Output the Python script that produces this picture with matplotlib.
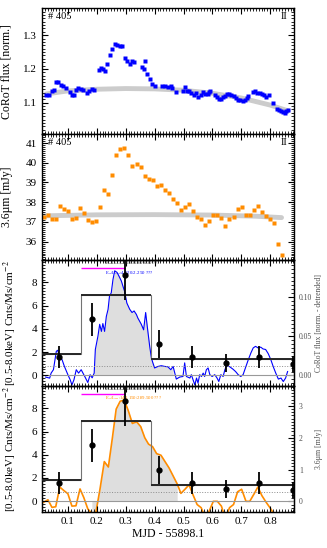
import numpy as np
from matplotlib import pyplot as plt
from matplotlib.ticker import MultipleLocator, FormatStrFormatter

# CoRoT light curve (panel 1)
corot_x = [0.025, 0.036, 0.045, 0.052, 0.060, 0.067, 0.076, 0.083, 0.094, 0.106,
           0.114, 0.120, 0.127, 0.136, 0.144, 0.152, 0.166, 0.173, 0.182, 0.190,
           0.206, 0.213, 0.220, 0.227, 0.236, 0.244, 0.254, 0.262, 0.270, 0.279,
           0.286, 0.296, 0.306, 0.314, 0.322, 0.330, 0.355, 0.362, 0.368, 0.375,
           0.383, 0.391, 0.400,
           0.427, 0.436, 0.445, 0.455, 0.459, 0.475, 0.497, 0.504, 0.511, 0.519,
           0.526, 0.535, 0.542, 0.551, 0.560, 0.568, 0.575, 0.583, 0.588, 0.593,
           0.608, 0.616, 0.622, 0.629, 0.637, 0.644, 0.651, 0.658, 0.665, 0.673,
           0.682, 0.690, 0.697, 0.704, 0.711, 0.718, 0.724,
           0.739, 0.747, 0.755, 0.763, 0.771, 0.778, 0.786, 0.794, 0.811, 0.823,
           0.831, 0.838, 0.845, 0.851, 0.856, 0.861]
corot_y = [1.122, 1.122, 1.135, 1.139, 1.160, 1.162, 1.154, 1.149, 1.144, 1.131,
           1.124, 1.124, 1.137, 1.144, 1.140, 1.137, 1.129, 1.136, 1.141, 1.139,
           1.196, 1.204, 1.201, 1.195, 1.216, 1.241, 1.258, 1.275, 1.272, 1.269,
           1.267, 1.234, 1.224, 1.214, 1.223, 1.221, 1.206, 1.199, 1.223, 1.184,
           1.171, 1.156, 1.149,
           1.151, 1.150, 1.147, 1.150, 1.143, 1.132, 1.135, 1.148, 1.135, 1.135,
           1.129, 1.124, 1.129, 1.117, 1.122, 1.132, 1.126, 1.127, 1.133, 1.136,
           1.122, 1.118, 1.110, 1.111, 1.116, 1.119, 1.127, 1.126, 1.124, 1.121,
           1.113, 1.109, 1.107, 1.106, 1.109, 1.113, 1.121,
           1.131, 1.135, 1.130, 1.129, 1.127, 1.123, 1.118, 1.122, 1.100, 1.082,
           1.077, 1.075, 1.074, 1.070, 1.075, 1.079]
corot_trend_x = [0.025, 0.1, 0.2, 0.3, 0.4, 0.5, 0.6, 0.7, 0.8, 0.861]
corot_trend_y = [1.126, 1.135, 1.140, 1.142, 1.141, 1.137, 1.128, 1.114, 1.093, 1.076]

# Spitzer 3.6um light curve (panel 2)
irac_x = [0.016, 0.031, 0.045, 0.058, 0.072, 0.086, 0.100, 0.114, 0.128, 0.142,
          0.155, 0.169, 0.183, 0.197, 0.211, 0.226, 0.240, 0.254, 0.267, 0.281,
          0.295, 0.309, 0.323, 0.338, 0.352, 0.366, 0.379, 0.393, 0.407, 0.422,
          0.436, 0.450, 0.464, 0.478, 0.491, 0.505, 0.519, 0.533, 0.547, 0.561,
          0.575, 0.589, 0.603, 0.617, 0.631, 0.645, 0.659, 0.673, 0.687, 0.701,
          0.716, 0.729, 0.745, 0.757, 0.771, 0.785, 0.799, 0.813, 0.827, 0.839]
irac_y = [37.26, 37.36, 37.14, 37.16, 37.79, 37.67, 37.57, 37.16, 37.18, 37.72,
          37.46, 37.11, 36.98, 37.03, 37.74, 38.60, 38.42, 39.39, 40.37, 40.70,
          40.75, 40.39, 39.84, 39.92, 39.76, 39.33, 39.16, 39.10, 38.83, 38.85,
          38.62, 38.45, 38.15, 37.95, 37.59, 37.74, 37.89, 37.54, 37.24, 37.16,
          36.84, 37.03, 37.36, 37.36, 37.19, 36.78, 37.13, 37.23, 37.66, 37.74,
          37.34, 37.34, 37.59, 37.82, 37.52, 37.32, 37.13, 36.93, 35.90, 35.30]
irac_trend_x = [0.016, 0.2, 0.4, 0.6, 0.75, 0.839]
irac_trend_y = [37.31, 37.36, 37.37, 37.35, 37.29, 37.22]

# X-ray rate (panels 3, 4)
xray_x = [0.068, 0.183, 0.299, 0.415, 0.531, 0.646, 0.762, 0.878]
xray_y = [1.60, 4.83, 8.63, 2.68, 1.60, 1.05, 1.60, 0.99]
xray_err = [0.95, 1.42, 2.15, 1.18, 0.95, 0.75, 0.95, 0.70]
block_edges = [0.01, 0.146, 0.387, 0.882]
block_rate = [1.81, 6.95, 1.38]
quiescent_level = 0.77

# detrended CoRoT (panel 3, right axis)
corot_det_x = [0.023, 0.037, 0.042, 0.050, 0.060, 0.065, 0.071, 0.080, 0.088, 0.100,
               0.108, 0.114, 0.121, 0.129, 0.137, 0.146, 0.158, 0.169, 0.177, 0.184,
               0.191, 0.195, 0.204, 0.210, 0.216, 0.221, 0.227, 0.233, 0.239, 0.244,
               0.250, 0.256, 0.262, 0.270, 0.277, 0.285, 0.290, 0.296, 0.304, 0.314,
               0.322, 0.329, 0.337, 0.342, 0.348, 0.354, 0.362, 0.369, 0.375, 0.383,
               0.389, 0.394, 0.400, 0.412, 0.423, 0.435, 0.446, 0.456, 0.464, 0.475,
               0.487, 0.498, 0.504, 0.510, 0.522, 0.527, 0.533, 0.539, 0.545, 0.550,
               0.556, 0.562, 0.568, 0.573, 0.579, 0.585, 0.591, 0.599, 0.608, 0.616,
               0.622, 0.629, 0.637, 0.643, 0.649, 0.660, 0.671, 0.680, 0.689, 0.698,
               0.706, 0.714, 0.724, 0.733, 0.741, 0.749, 0.758, 0.767, 0.775, 0.784,
               0.793, 0.802, 0.810, 0.819, 0.828, 0.837, 0.845, 0.853, 0.860]
corot_det_y = [-0.002, -0.0034, 0.003, 0.0073, 0.0307, 0.032, 0.024, 0.020, 0.0115, 0.001,
               -0.0055, -0.012, -0.0055, 0.0073, 0.003, 0.0073, -0.001, -0.009, 0.001, -0.003,
               0.003, 0.033, 0.050, 0.065, 0.056, 0.066, 0.056, 0.075, 0.084, 0.101,
               0.105, 0.122, 0.133, 0.131, 0.126, 0.120, 0.114, 0.107, 0.092, 0.084,
               0.080, 0.082, 0.0775, 0.073, 0.069, 0.065, 0.058, 0.080, 0.061, 0.037,
               0.022, 0.016, 0.0095, 0.0115, 0.0124, 0.0115, 0.011, 0.0073, 0.0115, -0.0046,
               -0.002, -0.0013, 0.016, -0.0013, -0.0033, 0.001, -0.0055, -0.012, -0.0033, -0.0097,
               0.001, -0.0013, 0.003, -0.0013, 0.0073, 0.0095, 0.001, -0.0013, 0.001, -0.0033,
               -0.0077, 0.001, -0.0013, 0.0073, 0.0124, 0.011, 0.008, 0.005, 0.001, -0.0013,
               0.001, 0.0095, 0.020, 0.0286, 0.035, 0.037, 0.035, 0.036, 0.0337, 0.033,
               0.0277, 0.020, 0.0115, 0.003, -0.0046, -0.0033, -0.0077, -0.0033, 0.005]
corot_flare_range = (0.19, 0.465)

# detrended 3.6um (panel 4, right axis), same epochs as irac_x
irac_det_y = [-0.03, 0.05, -0.19, -0.17, 0.45, 0.34, 0.24, -0.15, -0.14, 0.39,
              0.12, -0.24, -0.38, -0.34, 0.38, 1.25, 1.08, 2.0, 2.9, 3.15,
              3.18, 2.85, 2.45, 2.5, 2.35, 2.0, 1.8, 1.72, 1.5, 1.45,
              1.25, 1.05, 0.8, 0.55, 0.25, 0.38, 0.52, 0.2, -0.1, -0.2,
              -0.5, -0.3, 0.0, 0.0, -0.15, -0.55, -0.2, -0.1, 0.3, 0.38,
              0.0, 0.0, 0.25, 0.45, 0.18, -0.02, -0.2, -0.4, -1.4, -2.0]
irac_flare_range = (0.18, 0.48)

flare_span = (0.146, 0.298)

plt.rcParams['font.family'] = 'serif'
plt.rcParams['font.serif'] = ['Liberation Serif', 'DejaVu Serif']
plt.rcParams['mathtext.fontset'] = 'stix'

ORANGE = '#ff8c00'


def style_axis(ax, right=True):
    ax.tick_params(which='both', direction='in', top=True, right=right, labelsize=8)
    ax.tick_params(which='major', length=4, width=0.8)
    ax.tick_params(which='minor', length=2, width=0.6)
    ax.xaxis.set_major_locator(MultipleLocator(0.1))
    ax.xaxis.set_minor_locator(MultipleLocator(0.01))
    for sp in ax.spines.values():
        sp.set_linewidth(1.0)


fig, axes = plt.subplots(4, 1, figsize=(3.27, 5.48), dpi=100, sharex=True)
fig.subplots_adjust(left=0.128, right=0.899, top=0.985, bottom=0.066, hspace=0)
ax1, ax2, ax3, ax4 = axes

# panel 1: CoRoT
ax1.plot(corot_trend_x, corot_trend_y, color='0.8', lw=3.5, solid_capstyle='round', zorder=1)
ax1.plot(corot_x, corot_y, 's', color='blue', ms=2.5, mec='none', zorder=2)
ax1.set_ylim(1.007, 1.38)
ax1.yaxis.set_major_locator(MultipleLocator(0.1))
ax1.yaxis.set_minor_locator(MultipleLocator(0.01))
ax1.set_ylabel('CoRoT flux [norm.]', fontsize=8.5)
ax1.yaxis.set_label_coords(-0.115, 0.5)
style_axis(ax1)

# panel 2: 3.6um
ax2.plot(irac_trend_x, irac_trend_y, color='0.8', lw=3.5, solid_capstyle='round', zorder=1)
ax2.plot(irac_x, irac_y, 's', color=ORANGE, ms=2.5, mec='none', zorder=2)
ax2.set_ylim(35.07, 41.45)
ax2.yaxis.set_major_locator(MultipleLocator(1))
ax2.yaxis.set_minor_locator(MultipleLocator(0.1))
ax2.set_ylabel('3.6µm [mJy]', fontsize=8.5)
ax2.yaxis.set_label_coords(-0.115, 0.5)
style_axis(ax2)

for ax in (ax1, ax2):
    ax.text(0.025, 0.97, '# 405', transform=ax.transAxes, ha='left', va='top', fontsize=7.5)
    ax.text(0.975, 0.97, 'II', transform=ax.transAxes, ha='right', va='top', fontsize=7.5)

# panels 3 and 4: X-ray + detrended curves
panels = [
    (ax3, corot_det_x, corot_det_y, 'blue', 0.8, corot_flare_range,
     'CoRoT flux [norm. - detrended]', (-0.0133, 0.1467), 0.05, 0.005, '%.2f',
     r'E$_X$/L$_{opt}$:4.020/2.250 ???'),
    (ax4, irac_x, irac_det_y, ORANGE, 1.2, irac_flare_range,
     '3.6µm [mJy]', (-0.33, 3.63), 1, 0.1, '%d',
     r'E$_X$/L$_{IR}$:141.150/289.500 ???'),
]
for ax, px, py, col, lw, frange, rlabel, rlim, rmaj, rmin, rfmt, note in panels:
    ax.set_ylim(-0.92, 9.93)
    ax.axhline(0, color='0.6', lw=0.8, zorder=1)
    ax.axhline(quiescent_level, color='0.55', lw=0.7, ls=':', zorder=1)
    ax.stairs(block_rate, block_edges, color='0.45', lw=0.8, baseline=None, zorder=3)
    ax.hlines(block_rate, block_edges[:-1], block_edges[1:], color='0.15', lw=1.4, zorder=3)
    ax.errorbar(xray_x, xray_y, yerr=xray_err, fmt='o', color='black', ms=3.5,
                elinewidth=1.3, capsize=0, zorder=5)
    ax.hlines(9.2, flare_span[0], flare_span[1], color='magenta', lw=1.0, zorder=4)
    ax.text(0.227, 9.55, r'E$_X$/L$_{bol,IR}$:0.6358/0.030 ???', fontsize=3.5,
            color='0.2', va='center', zorder=4)
    ax.text(0.227, 8.85, note, fontsize=3.5, color=col, va='center', zorder=4)
    ax.yaxis.set_major_locator(MultipleLocator(2))
    ax.yaxis.set_minor_locator(MultipleLocator(0.25))
    ax.set_ylabel('[0.5-8.0keV] Cnts/Ms/cm$^{-2}$', fontsize=8)
    ax.yaxis.set_label_coords(-0.09, 0.5)
    style_axis(ax, right=False)

    tw = ax.twinx()
    px = np.array(px)
    py = np.array(py)
    mask = (px >= frange[0]) & (px <= frange[1])
    tw.fill_between(px[mask], 0, py[mask], color='0.87', lw=0, zorder=0)
    tw.plot(px, py, color=col, lw=lw, zorder=2)
    tw.set_ylim(*rlim)
    tw.yaxis.set_major_locator(MultipleLocator(rmaj))
    tw.yaxis.set_minor_locator(MultipleLocator(rmin))
    tw.yaxis.set_major_formatter(FormatStrFormatter(rfmt))
    tw.tick_params(which='both', direction='in', labelsize=5.5, labelcolor='0.3')
    tw.tick_params(which='major', length=4, width=0.8)
    tw.tick_params(which='minor', length=2, width=0.6)
    tw.set_ylabel(rlabel, fontsize=5.5, color='0.3')
    tw.yaxis.set_label_coords(1.085, 0.5)
    ax.set_zorder(tw.get_zorder() + 1)
    ax.patch.set_visible(False)

ax4.set_xlim(0.01, 0.882)
ax4.set_xlabel('MJD - 55898.1', fontsize=8.5, labelpad=2)

fig.savefig('out.png', dpi=100)
